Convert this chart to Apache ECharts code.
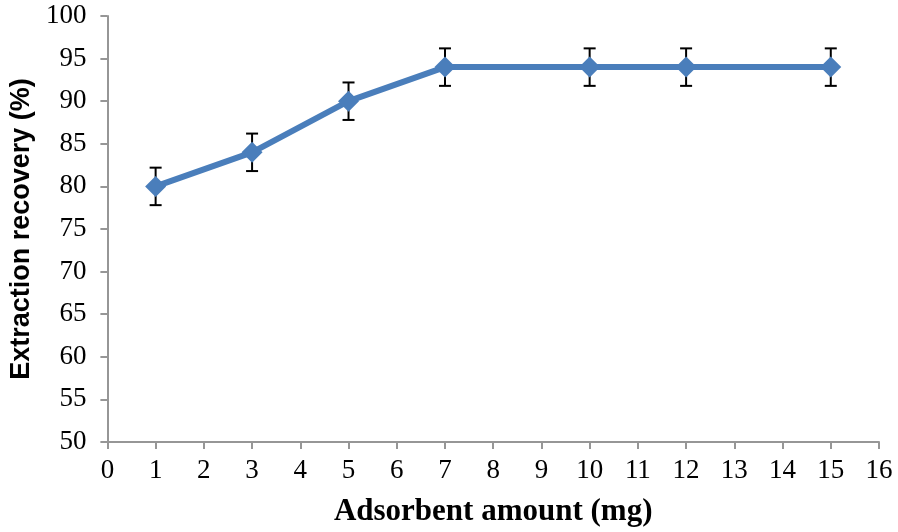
<!DOCTYPE html>
<html><head><meta charset="utf-8">
<script src="https://cdn.jsdelivr.net/npm/echarts@6/dist/echarts.min.js"></script>
<style>html,body{margin:0;padding:0;background:#fff}#c{width:898px;height:532px}</style>
</head><body><div id="c"></div>
<script>
const xValues = [1, 3, 5, 7, 10, 12, 15];
const recovery = [80, 84, 90, 94, 94, 94, 94];
const errors = [2.2, 2.2, 2.2, 2.2, 2.2, 2.2, 2.2];
const xTitle = 'Adsorbent amount (mg)';
const yTitle = 'Extraction recovery (%)';

const lineData = xValues.map((x, i) => [x, recovery[i]]);
const errData = xValues.map((x, i) => [x, recovery[i] - errors[i], recovery[i] + errors[i]]);

const chart = echarts.init(document.getElementById('c'));
chart.setOption({
  animation: false,
  grid: { left: 104, right: 19, top: 16, bottom: 89 },
  xAxis: {
    type: 'value', min: 0, max: 16, interval: 1,
    name: xTitle, nameLocation: 'middle', nameGap: 54,
    nameTextStyle: { fontFamily: 'Liberation Serif', fontWeight: 'bold', fontSize: 31, color: '#000' },
    axisLine: { lineStyle: { color: '#969696', width: 2 } },
    axisTick: { length: 7, lineStyle: { color: '#969696', width: 2 } },
    axisLabel: { fontFamily: 'Liberation Serif', fontSize: 27, color: '#000', margin: 15 },
    splitLine: { show: false }
  },
  yAxis: {
    type: 'value', min: 50, max: 100, interval: 5,
    name: yTitle, nameLocation: 'middle', nameGap: 70,
    nameTextStyle: { fontFamily: 'Liberation Sans', fontWeight: 'bold', fontSize: 27, color: '#000' },
    axisLine: { show: true, lineStyle: { color: '#969696', width: 2 } },
    axisTick: { show: true, length: 7, lineStyle: { color: '#969696', width: 2 } },
    axisLabel: { fontFamily: 'Liberation Serif', fontSize: 27, color: '#000', margin: 21 },
    splitLine: { show: false }
  },
  series: [
    {
      type: 'custom',
      data: errData,
      z: 1,
      renderItem: function (params, api) {
        const x = api.value(0);
        const lo = api.coord([x, api.value(1)]);
        const hi = api.coord([x, api.value(2)]);
        const hw = 6;
        const st = { stroke: '#000', lineWidth: 2 };
        return {
          type: 'group',
          children: [
            { type: 'line', shape: { x1: lo[0], y1: lo[1], x2: hi[0], y2: hi[1] }, style: st },
            { type: 'line', shape: { x1: lo[0] - hw, y1: lo[1], x2: lo[0] + hw, y2: lo[1] }, style: st },
            { type: 'line', shape: { x1: hi[0] - hw, y1: hi[1], x2: hi[0] + hw, y2: hi[1] }, style: st }
          ]
        };
      }
    },
    {
      type: 'line',
      data: lineData,
      z: 3,
      symbol: 'diamond',
      symbolSize: 21,
      lineStyle: { color: '#4a7ebb', width: 6 },
      itemStyle: { color: '#4a7ebb' }
    }
  ]
});
</script>
</body></html>
